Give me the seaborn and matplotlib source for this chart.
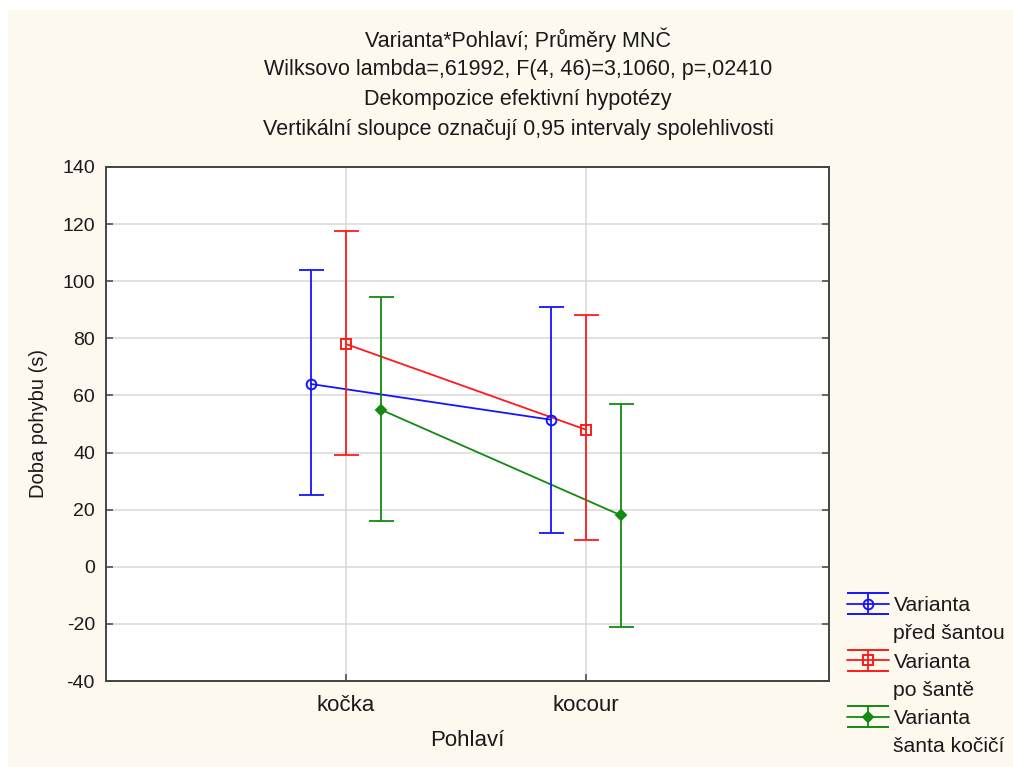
import numpy as np
import pandas as pd
import matplotlib
matplotlib.use("Agg")
import matplotlib.pyplot as plt
import seaborn as sns
from matplotlib.patches import Rectangle
from matplotlib.lines import Line2D
from matplotlib.container import ErrorbarContainer
from matplotlib.legend_handler import HandlerErrorbar

categories = ["kočka", "kocour"]
series = ["Varianta\npřed šantou", "Varianta\npo šantě", "Varianta\nšanta kočičí"]
means = {
    series[0]: [64, 51.5],
    series[1]: [78, 48],
    series[2]: [55, 18],
}
upper = {
    series[0]: [104, 91],
    series[1]: [117.5, 88],
    series[2]: [94.5, 57],
}
lower = {
    series[0]: [25, 12],
    series[1]: [39, 9.5],
    series[2]: [16, -21],
}
title_lines = [
    "Varianta*Pohlaví; Průměry MNČ",
    "Wilksovo lambda=,61992, F(4, 46)=3,1060, p=,02410",
    "Dekompozice efektivní hypotézy",
    "Vertikální sloupce označují 0,95 intervaly spolehlivosti",
]
yticks = [-40, -20, 0, 20, 40, 60, 80, 100, 120, 140]

colors = ["#1414ff", "#ff1a1a", "#138a13"]
markers = ["o", "s", "D"]
msizes = [7, 7, 5]
mfcs = ["none", "none", "#138a13"]
offsets = [-0.146, 0.0, 0.146]

sns.set_theme(style="white")
plt.rcParams["font.family"] = ["Liberation Sans", "DejaVu Sans"]

cream = "#fef9ee"
txt = "#1a1a1a"
fig = plt.figure(figsize=(10.13, 7.67), dpi=100, facecolor="white")
fig.patches.append(Rectangle((8 / 1013, 0), 1 - 8 / 1013, 1 - 10 / 767,
                             transform=fig.transFigure, facecolor=cream,
                             edgecolor="none", zorder=-10))
ax = fig.add_axes([106 / 1013, 1 - 681 / 767, (829 - 106) / 1013, (681 - 167) / 767])
ax.set_facecolor("white")

rows = []
for i, s in enumerate(series):
    for j, c in enumerate(categories):
        rows.append({"x": j + offsets[i], "y": means[s][j], "series": s})
df = pd.DataFrame(rows)

sns.lineplot(data=df, x="x", y="y", hue="series", palette=colors, ax=ax,
             legend=False, linewidth=1.3, zorder=3)

leg_handles = []
leg_labels = []
blank = Line2D([], [], linestyle="none")
for i, s in enumerate(series):
    xs = np.arange(len(categories)) + offsets[i]
    m = np.array(means[s])
    yerr = np.vstack([m - np.array(lower[s]), np.array(upper[s]) - m])
    ax.errorbar(xs, m, yerr=yerr, fmt="none", ecolor=colors[i],
                elinewidth=1.3, capsize=9, capthick=1.3, zorder=4)
    ax.plot(xs, m, linestyle="none", marker=markers[i], markersize=msizes[i],
            markerfacecolor=mfcs[i], markeredgecolor=colors[i],
            markeredgewidth=1.4, zorder=5)
    hl = ax.errorbar([np.nan], [np.nan], yerr=[[1], [1]], color=colors[i],
                     marker=markers[i], markersize=msizes[i],
                     markerfacecolor=mfcs[i], markeredgecolor=colors[i],
                     markeredgewidth=1.4,
                     elinewidth=1.3, capsize=15, capthick=1.3, linewidth=1.3)
    first, second = s.split("\n")
    leg_handles += [hl, blank]
    leg_labels += [first, second]

ax.set_xlim(-1.0, 2.0125)
ax.set_ylim(-40, 140)
ax.set_xticks(range(len(categories)))
ax.set_xticklabels(categories)
ax.set_yticks(yticks)
ax.set_yticklabels([str(t) for t in yticks])
ax.grid(True, color="#d9d9d9", linewidth=1.1)
ax.set_axisbelow(True)
for sp in ax.spines.values():
    sp.set_visible(True)
    sp.set_color("#444444")
    sp.set_linewidth(1.4)
ax.tick_params(axis="both", direction="in", length=5, width=1.1, color="#444444",
               labelcolor=txt)
ax.tick_params(axis="y", right=True, left=True, labelsize=14, pad=8)
ax.tick_params(axis="x", bottom=True, top=False, labelsize=16, pad=10)
ax.set_xlabel("Pohlaví", fontsize=16, color=txt, labelpad=10)
ax.set_ylabel("Doba pohybu (s)", fontsize=14.5, color=txt, labelpad=10)

for k, t in enumerate(title_lines):
    fig.text(518 / 1013, 1 - (40 + 30 * k) / 767, t, ha="center", va="center",
             fontsize=15.5, color=txt)

leg = fig.legend(handles=leg_handles, labels=leg_labels, loc="upper left",
                 bbox_to_anchor=(847 / 1013, 1 - 596 / 767), frameon=False,
                 fontsize=15.2, handlelength=2.0, handletextpad=0.2,
                 labelspacing=0.44, borderaxespad=0, borderpad=0,
                 handler_map={ErrorbarContainer: HandlerErrorbar(yerr_size=0.5)})
for t in leg.get_texts():
    t.set_color(txt)

fig.savefig("out.png", dpi=100, facecolor=fig.get_facecolor())
